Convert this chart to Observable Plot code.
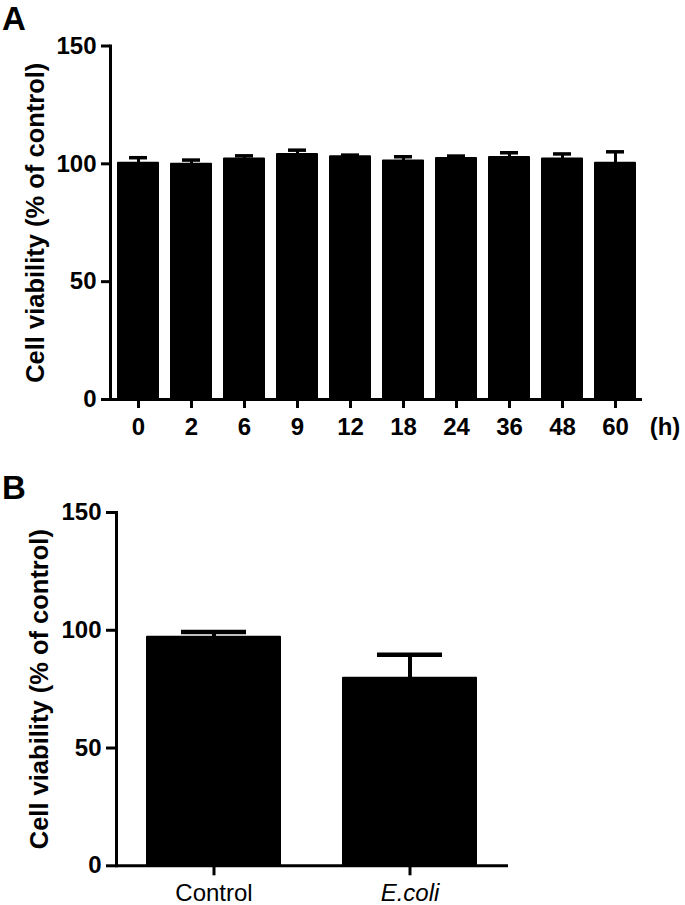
<!DOCTYPE html>
<html>
<head>
<meta charset="utf-8">
<script src="https://cdn.jsdelivr.net/npm/d3@7"></script>
<script src="https://cdn.jsdelivr.net/npm/@observablehq/plot@0.6"></script>
<style>
  html, body { margin: 0; padding: 0; background: #fff; }
  #chart { position: relative; width: 685px; height: 905px; background: #fff; font-family: "Liberation Sans", Arial, sans-serif; }
  .panel { position: absolute; left: 0; }
  .letter { position: absolute; left: 2px; font-size: 33px; line-height: 32px; font-weight: bold; color: #000; z-index: 5; }
</style>
</head>
<body>
<div id="chart">
  <div class="panel" id="pa" style="top:0px"></div>
  <div class="panel" id="pb" style="top:460px"></div>
  <div class="letter" style="top:3px">A</div>
  <div class="letter" style="top:472px">B</div>
</div>
<script>
// ---- data ----
const hours = ["0", "2", "6", "9", "12", "18", "24", "36", "48", "60"];
const viabilityA = [100.2, 99.8, 102.0, 104.0, 103.0, 101.2, 102.3, 102.7, 102.0, 100.2];
const semA = [2.4, 1.8, 1.4, 1.8, 0.7, 1.8, 1.0, 2.0, 2.2, 4.9];

const groupsB = ["Control", "E.coli"];
const viabilityB = [97.0, 79.6];
const semB = [2.3, 10.0];

const yTicks = [0, 50, 100, 150];
const yLabel = "Cell viability (% of control)";
const unitLabel = "(h)";

const dataA = hours.map((t, i) => ({t, v: viabilityA[i], e: semA[i]}));
const dataB = groupsB.map((t, i) => ({t, v: viabilityB[i], e: semB[i]}));

const font = "'Liberation Sans', Arial, sans-serif";

function yAxis(opts) {
  return Plot.axisY({ticks: yTicks, tickSize: opts.tickSize, tickPadding: 5, fontSize: 24, fontWeight: "bold", strokeWidth: 3, label: null});
}

// ---- Panel A ----
const plotA = Plot.plot({
  width: 685, height: 450,
  marginLeft: 110, marginRight: 43, marginTop: 45.5, marginBottom: 51,
  style: {fontFamily: font, color: "black", background: "white"},
  x: {domain: hours, paddingInner: 0.25, paddingOuter: 0.1},
  y: {domain: [0, 150]},
  marks: [
    Plot.barY(dataA, {x: "t", y: "v", fill: "black", stroke: "black", strokeWidth: 2, strokeLinejoin: "round"}),
    Plot.ruleX(dataA, {x: "t", y1: "v", y2: d => d.v + d.e, strokeWidth: 3}),
    Plot.tickY(dataA, {x: "t", y: d => d.v + d.e, strokeWidth: 3.5, insetLeft: 11, insetRight: 11}),
    Plot.frame({anchor: "left", strokeWidth: 3}),
    Plot.ruleY([0], {strokeWidth: 3}),
    yAxis({tickSize: 9}),
    Plot.axisX({tickSize: 9, tickPadding: 9, fontSize: 24, fontWeight: "bold", strokeWidth: 3, label: null}),
    Plot.text([unitLabel], {frameAnchor: "bottom-right", dx: 22.5, dy: 18, lineAnchor: "top", textAnchor: "middle", fontSize: 24, fontWeight: "bold"}),
    Plot.text([yLabel], {frameAnchor: "left", dx: -75, rotate: -90, textAnchor: "middle", lineAnchor: "middle", fontSize: 25.5, fontWeight: "bold"})
  ]
});
document.getElementById("pa").appendChild(plotA);

// ---- Panel B ----
const plotB = Plot.plot({
  width: 685, height: 445,
  marginLeft: 116, marginRight: 177, marginTop: 52, marginBottom: 39.7,
  style: {fontFamily: font, color: "black", background: "white"},
  x: {domain: groupsB, paddingInner: 0.32, paddingOuter: 0.156},
  y: {domain: [0, 150]},
  marks: [
    Plot.barY(dataB, {x: "t", y: "v", fill: "black", stroke: "black", strokeWidth: 2, strokeLinejoin: "round"}),
    Plot.ruleX(dataB, {x: "t", y1: "v", y2: d => d.v + d.e, strokeWidth: 4}),
    Plot.tickY(dataB, {x: "t", y: d => d.v + d.e, strokeWidth: 4.5, insetLeft: 34, insetRight: 34}),
    Plot.frame({anchor: "left", strokeWidth: 3}),
    Plot.ruleY([0], {strokeWidth: 3}),
    yAxis({tickSize: 10}),
    Plot.axisX({ticks: [groupsB[0]], tickSize: 10, tickPadding: 8, fontSize: 24, strokeWidth: 3, label: null}),
    Plot.axisX({ticks: [groupsB[1]], tickSize: 10, tickPadding: 8, fontSize: 24, fontStyle: "italic", strokeWidth: 3, label: null}),
    Plot.text([yLabel], {frameAnchor: "left", dx: -77, rotate: -90, textAnchor: "middle", lineAnchor: "middle", fontSize: 25.5, fontWeight: "bold"})
  ]
});
document.getElementById("pb").appendChild(plotB);
</script>
</body>
</html>
